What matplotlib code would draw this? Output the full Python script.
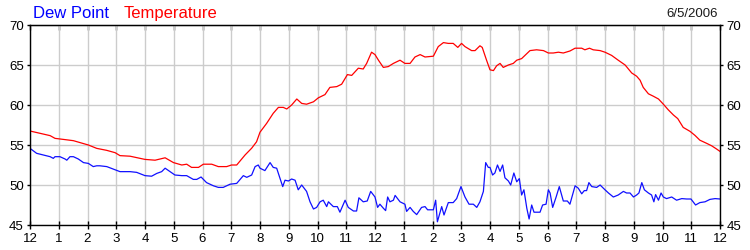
import matplotlib
matplotlib.use("Agg")
import matplotlib.pyplot as plt

plt.rcParams['font.family'] = ['Liberation Sans', 'DejaVu Sans']

# horas desde a meia-noite e valores (F)
t_temp = [0.0, 0.35, 0.70, 0.87, 1.16, 1.51, 1.74, 2.03, 2.32, 2.67, 2.96, 3.13, 3.48, 3.83,
          4.0, 4.35, 4.70, 4.99, 5.28, 5.45, 5.62, 5.86, 6.03, 6.32, 6.55, 6.84, 7.01, 7.19,
          7.48, 7.71, 7.88,
          8.0, 8.23, 8.46, 8.64, 8.81, 8.93, 9.10, 9.28, 9.45, 9.62, 9.86, 10.03, 10.26, 10.43,
          10.67, 10.84, 11.04, 11.19, 11.42, 11.59, 11.71, 11.88,
          12.0, 12.12, 12.29, 12.46, 12.64, 12.87, 13.04, 13.22, 13.39, 13.57, 13.74, 14.03,
          14.20, 14.38, 14.55, 14.72, 14.88, 15.01, 15.13, 15.36, 15.48, 15.65, 15.73, 15.88, 16.0,
          16.12, 16.23, 16.35, 16.46, 16.64, 16.81, 16.93, 17.10, 17.39, 17.62, 17.86, 18.03,
          18.20, 18.38, 18.55, 18.78, 18.96, 19.19, 19.30, 19.46, 19.59, 19.83,
          20.0, 20.23, 20.46, 20.70, 20.93, 21.10, 21.22, 21.33, 21.51, 21.68, 21.86, 22.03,
          22.20, 22.38, 22.53, 22.72, 22.96, 23.13, 23.30, 23.54, 23.71, 23.88, 24.0]
temp = [56.75, 56.46, 56.17, 55.83, 55.7, 55.54, 55.3, 55.0, 54.58, 54.33, 54.04, 53.67, 53.6, 53.33,
        53.2, 53.1, 53.4, 52.8, 52.5, 52.6, 52.2, 52.2, 52.6, 52.6, 52.3, 52.3, 52.5, 52.5,
        53.75, 54.6, 55.4,
        56.6, 57.7, 58.96, 59.7, 59.7, 59.5, 60.0, 60.75, 60.2, 60.1, 60.4, 60.9, 61.3, 62.2,
        62.3, 62.6, 63.8, 63.7, 64.6, 64.5, 65.2, 66.6,
        66.3, 65.6, 64.7, 64.8, 65.2, 65.6, 65.2, 65.2, 66.0, 66.3, 66.0, 66.1,
        67.3, 67.8, 67.7, 67.7, 67.2, 67.7, 67.3, 66.8, 66.8, 67.4, 67.2, 65.6, 64.4,
        64.3, 64.9, 65.2, 64.7, 65.0, 65.2, 65.6, 65.8, 66.8, 66.9, 66.8, 66.5,
        66.5, 66.6, 66.5, 66.75, 67.1, 67.1, 66.9, 67.1, 66.9, 66.8,
        66.6, 66.2, 65.6, 65.0, 64.0, 63.6, 63.1, 62.2, 61.4, 61.1, 60.75, 60.1,
        59.4, 58.75, 58.3, 57.2, 56.7, 56.2, 55.6, 55.2, 54.9, 54.5, 54.2]

t_dew = [0.0, 0.23, 0.46, 0.70, 0.81, 0.87, 1.04, 1.22, 1.28, 1.39, 1.51, 1.68, 1.86, 2.03, 2.20,
         2.32, 2.43, 2.67, 2.96, 3.13, 3.48, 3.71, 4.0,
         4.23, 4.41, 4.58, 4.70, 4.87, 5.04, 5.28, 5.45, 5.68, 5.80, 5.95, 6.14, 6.38, 6.55, 6.72,
         6.96, 7.19, 7.42, 7.54, 7.71, 7.83, 7.94, 8.0,
         8.17, 8.35, 8.46, 8.58, 8.70, 8.79, 8.87, 8.99, 9.10, 9.22, 9.33, 9.45, 9.62, 9.74, 9.86,
         9.97, 10.09, 10.20, 10.32, 10.38, 10.55, 10.69, 10.78, 10.96, 11.07, 11.25, 11.36, 11.44,
         11.59, 11.73, 11.85, 12.0,
         12.09, 12.17, 12.29, 12.37, 12.44, 12.52, 12.64, 12.70, 12.87, 13.04, 13.10, 13.22, 13.33,
         13.45, 13.62, 13.74, 13.83, 14.03, 14.11, 14.17, 14.32, 14.40, 14.55, 14.72, 14.84, 14.99,
         15.13, 15.27, 15.42, 15.54, 15.65, 15.77, 15.85, 15.94, 16.0,
         16.09, 16.17, 16.26, 16.35, 16.44, 16.52, 16.64, 16.72, 16.83, 16.93, 17.02, 17.10, 17.18,
         17.28, 17.36, 17.45, 17.53, 17.74, 17.83, 17.95, 18.03, 18.09, 18.18, 18.30, 18.41, 18.55,
         18.69, 18.78, 18.96, 19.07, 19.19, 19.28, 19.36, 19.44, 19.54, 19.71, 19.83, 20.0,
         20.12, 20.29, 20.46, 20.64, 20.75, 20.87, 20.99, 21.10, 21.18, 21.28, 21.37, 21.51, 21.62,
         21.70, 21.76, 21.86, 21.95, 22.03, 22.14, 22.32, 22.49, 22.67, 22.84, 22.99, 23.15, 23.30,
         23.48, 23.65, 23.83, 24.0]
dew = [54.58, 53.96, 53.75, 53.54, 53.33, 53.54, 53.54, 53.25, 53.1, 53.54, 53.54, 53.25, 52.8, 52.7, 52.3,
       52.4, 52.4, 52.3, 51.9, 51.67, 51.67, 51.58, 51.17,
       51.1, 51.45, 51.67, 52.1, 51.67, 51.25, 51.17, 51.17, 50.7, 50.7, 51.0, 50.3, 49.9, 49.7, 49.7,
       50.1, 50.2, 51.17, 50.96, 51.25, 52.3, 52.5, 52.1,
       51.8, 52.8, 52.2, 52.1, 50.8, 49.8, 50.6, 50.5, 50.75, 50.6, 49.4, 50.0, 49.2, 47.9, 47.0,
       47.2, 47.9, 48.1, 47.3, 47.9, 47.3, 47.3, 46.6, 48.1, 47.2, 46.75, 46.75, 48.4,
       47.9, 48.0, 49.2, 48.5,
       47.2, 47.6, 47.1, 46.8, 48.5, 47.9, 48.1, 48.7, 47.9, 47.6, 46.7, 47.2, 46.7,
       46.3, 47.2, 47.3, 46.9, 46.9, 48.1, 45.4, 47.3, 46.25, 47.8, 47.8, 48.3, 49.8,
       48.5, 47.6, 47.6, 47.2, 47.9, 49.2, 52.8, 52.2, 52.2,
       51.25, 51.5, 52.5, 51.7, 52.5, 50.9, 50.5, 50.0, 51.5, 50.4, 50.8, 48.75, 49.4,
       47.1, 45.75, 47.5, 46.6, 46.6, 47.5, 47.6, 49.4, 49.0, 47.2, 48.5, 49.8, 48.0,
       48.0, 47.6, 49.9, 49.6, 48.9, 49.3, 49.3, 50.3, 49.8, 49.7, 50.0, 49.4,
       49.0, 48.5, 48.75, 49.2, 49.0, 49.0, 48.5, 48.75, 49.0, 50.3, 49.4, 49.0, 48.75,
       47.9, 48.8, 48.1, 49.0, 48.5, 48.3, 48.5, 48.1, 48.3, 48.25, 48.25, 47.5, 47.8,
       47.9, 48.2, 48.3, 48.25]

horas = list(range(25))
rotulos_x = ["12", "1", "2", "3", "4", "5", "6", "7", "8", "9", "10", "11",
             "12", "1", "2", "3", "4", "5", "6", "7", "8", "9", "10", "11", "12"]
ticks_y = [45, 50, 55, 60, 65, 70]
data = "6/5/2006"

fig = plt.figure(figsize=(7.5, 2.5), dpi=100)
ax = fig.add_axes([0.04, 0.10, 0.92, 0.80])

ax.plot(t_dew, dew, color="#1010ff", lw=0.9)
ax.plot(t_temp, temp, color="#ff0000", lw=0.9)

# limites e grade
ax.set_xlim(0, 24)
ax.set_ylim(45, 70)
ax.set_xticks(horas)
ax.set_xticklabels(rotulos_x)
ax.set_yticks(ticks_y)
ax.grid(True, color="#cccccc", lw=1.0)
ax.set_axisbelow(True)

for s in ax.spines.values():
    s.set_color("black")
    s.set_linewidth(1.0)

ax.tick_params(axis="x", direction="inout", length=6, width=1, labelsize=9.5, pad=3,
               top=False, bottom=True)
ax.tick_params(axis="y", direction="out", length=2.5, width=1, labelsize=9.5, pad=2,
               left=True, right=True, labelright=True)
# marcas do topo apontando para dentro
sec = ax.secondary_xaxis("top")
sec.set_xticks(horas)
sec.set_xticklabels([])
sec.tick_params(direction="in", length=3.8, width=1)

# legenda no topo
fig.text(33/750, 1 - 18/250, "Dew Point", color="#0000ff", fontsize=12, ha="left", va="baseline")
fig.text(124/750, 1 - 18/250, "Temperature", color="#ff0000", fontsize=12, ha="left", va="baseline")
fig.text(718/750, 1 - 17/250, data, color="#1a1a1a", fontsize=9.5, ha="right", va="baseline")

fig.savefig("out.png", dpi=100)
